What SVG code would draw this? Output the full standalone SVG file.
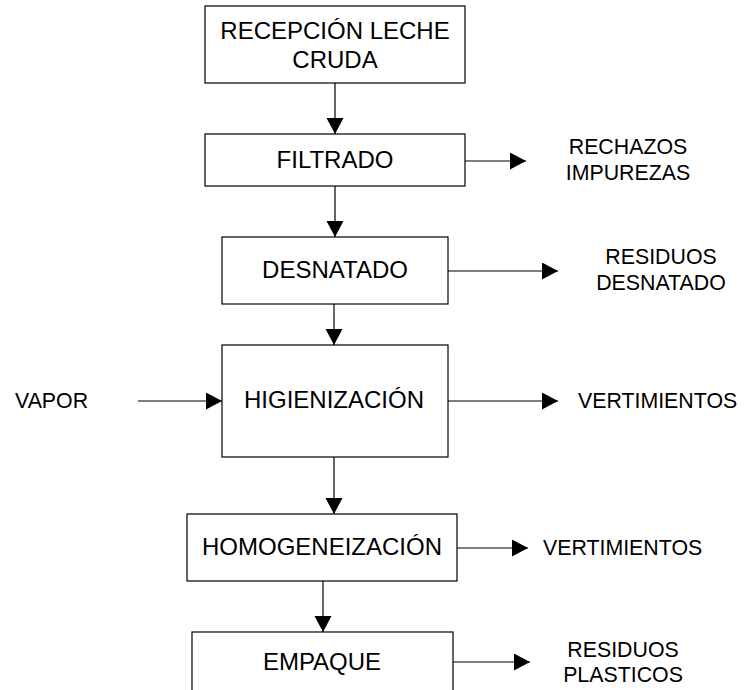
<svg xmlns="http://www.w3.org/2000/svg" width="747" height="690" viewBox="0 0 747 690">
<defs>
<style>
.box{fill:#fff;stroke:#000;stroke-width:1.2}
.t{font-family:"Liberation Sans",Arial,sans-serif;font-size:24px;fill:#000;text-anchor:middle}
.s{font-family:"Liberation Sans",Arial,sans-serif;font-size:21.33px;fill:#000}
.c{text-anchor:middle}
.ln{stroke:#000;stroke-width:1.2;fill:none;marker-end:url(#ah)}
</style>
<marker id="ah" markerUnits="userSpaceOnUse" markerWidth="17" markerHeight="18" refX="16" refY="8.5" orient="auto">
<path d="M0,0 L16,8.5 L0,17 z" fill="#000"/>
</marker>
</defs>
<rect width="747" height="690" fill="#fff"/>
<g id="connectors">
<line class="ln" x1="335" y1="83" x2="335" y2="134"/>
<line class="ln" x1="335" y1="186" x2="335" y2="237"/>
<line class="ln" x1="334" y1="304" x2="334" y2="345"/>
<line class="ln" x1="334" y1="457" x2="334" y2="514"/>
<line class="ln" x1="323" y1="581" x2="323" y2="632"/>
<line class="ln" x1="465" y1="161" x2="526" y2="161"/>
<line class="ln" x1="448" y1="271" x2="558" y2="271"/>
<line class="ln" x1="138" y1="401" x2="222" y2="401"/>
<line class="ln" x1="448" y1="401" x2="558" y2="401"/>
<line class="ln" x1="457" y1="548" x2="528" y2="548"/>
<line class="ln" x1="453" y1="662" x2="530" y2="662"/>
</g>
<g id="recepcion">
<rect class="box" x="205" y="6" width="260" height="77"/>
<text class="t" x="335" y="39">RECEPCIÓN LECHE</text>
<text class="t" x="335" y="68">CRUDA</text>
</g>
<g id="filtrado">
<rect class="box" x="205" y="134" width="260" height="52"/>
<text class="t" x="335" y="168">FILTRADO</text>
</g>
<g id="desnatado">
<rect class="box" x="222" y="237" width="226" height="67"/>
<text class="t" x="335" y="278">DESNATADO</text>
</g>
<g id="higienizacion">
<rect class="box" x="222" y="345" width="226" height="112"/>
<text class="t" x="334" y="408">HIGIENIZACIÓN</text>
</g>
<g id="homogeneizacion">
<rect class="box" x="187" y="514" width="270" height="67"/>
<text class="t" x="322" y="555">HOMOGENEIZACIÓN</text>
</g>
<g id="empaque">
<rect class="box" x="192" y="632" width="261" height="80"/>
<text class="t" x="322" y="670">EMPAQUE</text>
</g>
<g id="rechazos">
<text class="s c" x="628" y="154">RECHAZOS</text>
<text class="s c" x="628" y="180">IMPUREZAS</text>
</g>
<g id="residuos-desnatado">
<text class="s c" x="661" y="264">RESIDUOS</text>
<text class="s c" x="661" y="290">DESNATADO</text>
</g>
<g id="vapor">
<text class="s" x="15" y="408">VAPOR</text>
</g>
<g id="vertimientos1">
<text class="s" x="578" y="408">VERTIMIENTOS</text>
</g>
<g id="vertimientos2">
<text class="s" x="543" y="555">VERTIMIENTOS</text>
</g>
<g id="residuos-plasticos">
<text class="s c" x="623" y="657">RESIDUOS</text>
<text class="s c" x="623" y="682">PLASTICOS</text>
</g>
</svg>
